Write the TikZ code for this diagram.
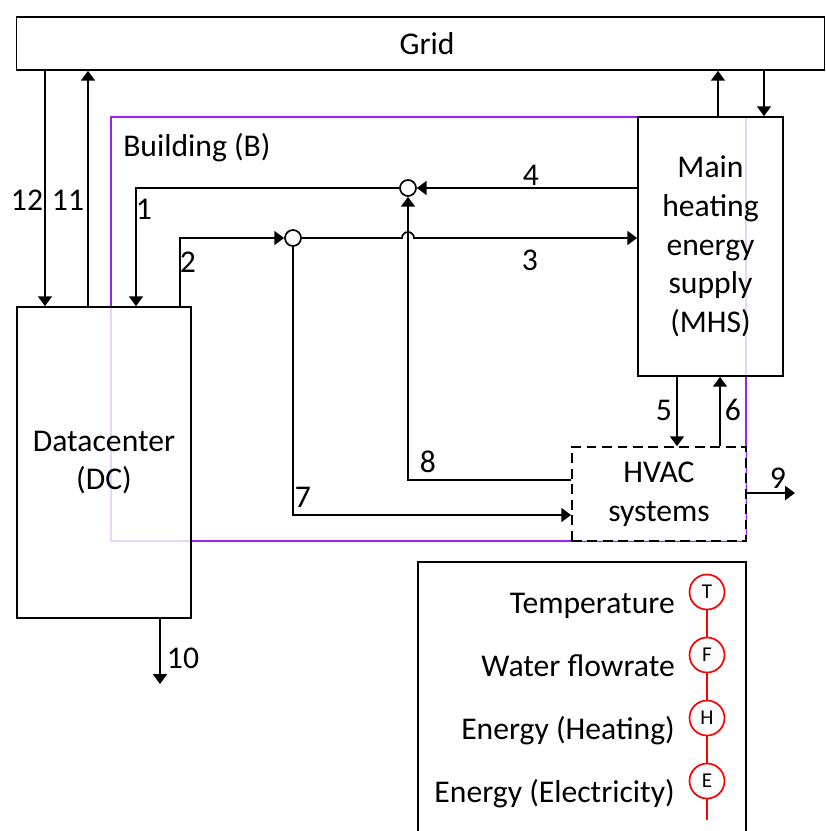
\documentclass[tikz,border=0pt]{standalone}
\usepackage{fontspec}
\setmainfont{Carlito}
\usetikzlibrary{arrows.meta}
\definecolor{bldpurple}{HTML}{A020F0}

\begin{document}
\begin{tikzpicture}[x=0.025cm, y=-0.025cm,
        every node/.style={font=\fontsize{22.5}{27.5}\selectfont},
        box/.style={draw, line width=1.2pt, fill=white, fill opacity=0.8, text opacity=1, align=center, inner sep=0pt},
        arr/.style={-{Triangle[length=7pt,width=10pt]}, line width=1.2pt},
        jct/.style={draw, circle, line width=1.2pt, fill=white, minimum size=0.4cm, inner sep=0pt},
        lbl/.style={inner sep=0pt},
        sym/.style={draw=red, circle, line width=1.2pt, fill=white, minimum size=0.875cm, inner sep=0pt, font=\fontsize{15}{17}\selectfont}]
      \clip (0,0) rectangle (826,831);
      % building outline
      \draw[bldpurple, line width=1.2pt] (111,117) rectangle (746,541);
      \node[lbl, anchor=west] (bname) at (123,148) {Building (B)};
      % main blocks
      \node[box, minimum width=20.2cm, minimum height=1.325cm] (grid) at (420.5,43.5) {\hspace{0.33cm}Grid};
      \node[box, minimum width=4.35cm, minimum height=7.775cm] (dc) at (104,462.5) {Datacenter\\(DC)};
      \node[box, minimum width=3.625cm, minimum height=6.475cm] (mhs) at (710.5,246.5) {Main\\heating\\energy\\supply\\(MHS)};
      \node[box, dash pattern=on 7pt off 4pt, minimum width=4.35cm, minimum height=2.35cm] (hvac) at (659,494) {HVAC\\systems};
      \node[jct] (j1) at (408,188) {};
      \node[jct] (j2) at (293,238) {};
      \coordinate (out9) at (795,493);
      \coordinate (out10) at (160,684);
      % grid links
      \draw[arr] (45,0 |- grid.south) -- (45,0 |- dc.north);
      \draw[arr] (88,0 |- dc.north) -- (88,0 |- grid.south);
      \draw[arr] (718,0 |- mhs.north) -- (718,0 |- grid.south);
      \draw[arr] (764,0 |- grid.south) -- (764,0 |- mhs.north);
      % heat flows
      \draw[arr] (mhs.west |- j1) -- (j1);
      \draw[arr] (j1) -| (136,0 |- dc.north);
      \draw[arr] (180,0 |- dc.north) |- (j2);
      \draw[arr] (j2) -- (402,238) arc (180:360:6) -- (mhs.west |- j2);
      \draw[arr] (hvac.west |- 0,480) -| (j1);
      \draw[arr] (j2) |- (hvac.west |- 0,515);
      \draw[arr] (677,0 |- mhs.south) -- (677,0 |- hvac.north);
      \draw[arr] (720,0 |- hvac.north) -- (720,0 |- mhs.south);
      \draw[arr] (hvac.east |- out9) -- (out9);
      \draw[arr] (out10 |- dc.south) -- (out10);
      % flow numbers
      \foreach \n/\x/\y in {1/144/209, 2/188/262, 3/530/260, 4/531/175, 5/664/410, 6/733/410,
          7/303/497, 8/428/462, 9/778/478, 10/183/658, 11/68/200, 12/27/200}
        \node[lbl] (l\n) at (\x,\y) {\n};
      % legend
      \node[draw, line width=1.2pt, minimum width=8.2cm, minimum height=7.2cm, anchor=north west] (legend) at (417,561) {};
      \foreach \i/\txt/\s/\y in {1/Temperature/T/592, 2/Water flowrate/F/655, 3/Energy (Heating)/H/718, 4/Energy (Electricity)/E/781}{
        \node[sym] (s\i) at (707,\y) {\s};
        \node[lbl, anchor=base east] (t\i) at (675,\y+21) {\txt};
      }
      \coordinate (legend end) at (707,820);
      \draw[red, line width=1.2pt] (s1) -- (s2);
      \draw[red, line width=1.2pt] (s2) -- (s3);
      \draw[red, line width=1.2pt] (s3) -- (s4);
      \draw[red, line width=1.2pt] (s4) -- (legend end);
    \end{tikzpicture}
\end{document}
